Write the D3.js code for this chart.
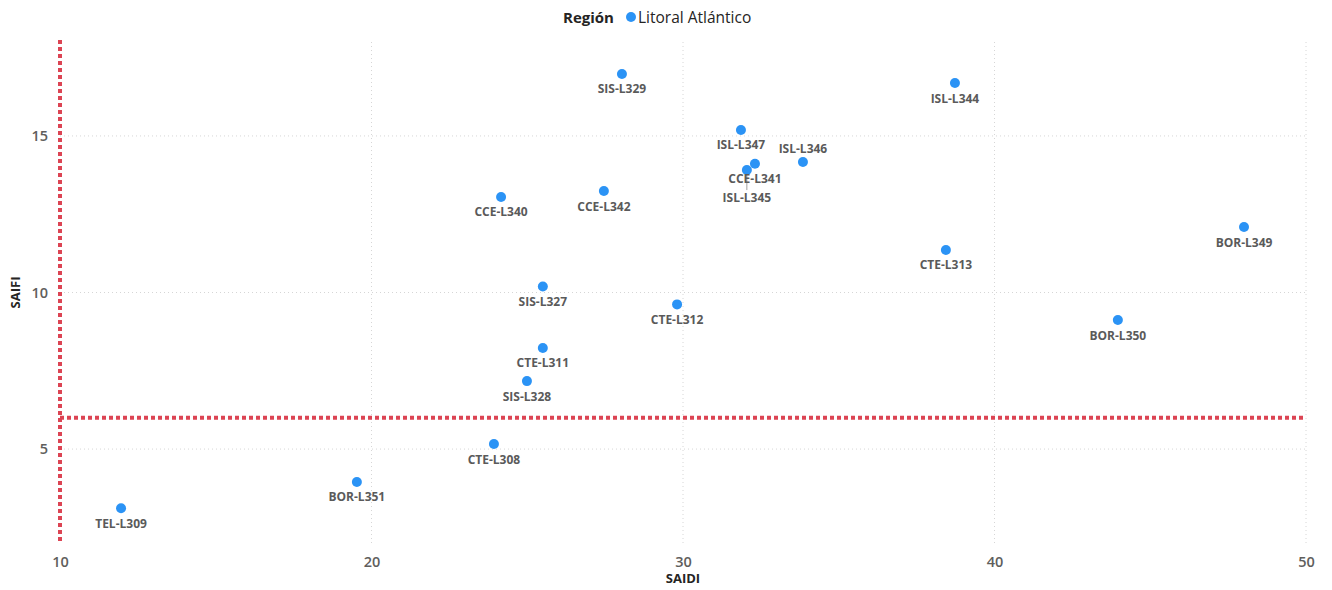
<!DOCTYPE html>
<html><head><meta charset="utf-8">
<script src="https://cdn.jsdelivr.net/npm/d3@7"></script>
<style>
body{margin:0;background:#fff;}
svg{display:block;font-family:"Open Sans","Noto Sans",sans-serif;}
</style></head>
<body><svg id="chart" width="1332" height="590"></svg>
<script>
const names = ["TEL-L309","BOR-L351","CTE-L308","SIS-L328","CTE-L311","SIS-L327","CCE-L340","CCE-L342","SIS-L329","CTE-L312","ISL-L347","CCE-L341","ISL-L345","ISL-L346","ISL-L344","CTE-L313","BOR-L349","BOR-L350"];
const saidi = [11.96,19.53,23.93,24.99,25.5,25.5,24.16,27.46,28.04,29.81,31.86,32.31,32.05,33.85,38.73,38.44,48.01,43.96];
const saifi = [3.11,3.95,5.16,7.17,8.23,10.19,13.05,13.24,16.98,9.62,15.19,14.11,13.91,14.17,16.69,11.36,12.09,9.12];
const labelPlace = ["below","below","below","below","below","below","below","below","below","below","below","below","far","above","below","below","below","below"];
const xTicks = [10,20,30,40,50];
const yTicks = [5,10,15];
const xDomain = [10,50];
const yDomain = [2,18];
const refX = 10, refY = 6;
const legendTitle = "Región", legendLabel = "Litoral Atlántico";

const svg = d3.select("#chart");
const m = {l:60, r:26, t:42, b:47};
const W = 1332, H = 590;
const x = d3.scaleLinear().domain(xDomain).range([m.l, W - m.r]);
const y = d3.scaleLinear().domain(yDomain).range([H - m.b, m.t]);
const tickColor = "#605E5C";

// gridlines
const g = svg.append("g");
g.selectAll("line.vg").data(xTicks.filter(t=>t!==refX)).join("line")
 .attr("x1",d=>x(d)).attr("x2",d=>x(d)).attr("y1",y(yDomain[1])).attr("y2",y(yDomain[0]))
 .attr("stroke","#d6d6d6").attr("stroke-width",1).attr("stroke-dasharray","1,3");
g.selectAll("line.hg").data(yTicks).join("line")
 .attr("x1",x(xDomain[0])).attr("x2",x(xDomain[1])).attr("y1",d=>y(d)).attr("y2",d=>y(d))
 .attr("stroke","#d6d6d6").attr("stroke-width",1).attr("stroke-dasharray","1,3");

// axes
const xAxis = svg.append("g").attr("transform",`translate(0,${H-m.b})`)
 .call(d3.axisBottom(x).tickValues(xTicks).tickSize(0).tickPadding(14));
const yAxis = svg.append("g").attr("transform",`translate(${m.l},0)`)
 .call(d3.axisLeft(y).tickValues(yTicks).tickSize(0).tickPadding(12));
[xAxis,yAxis].forEach(a=>{
  a.select(".domain").remove();
  a.selectAll("text").attr("fill",tickColor).attr("font-size",14.5).attr("font-weight",600)
   .attr("font-family","'Open Sans','Noto Sans',sans-serif");
});

// reference lines
svg.append("line").attr("x1",x(refX)).attr("x2",x(refX)).attr("y1",y(yDomain[1])-2).attr("y2",y(yDomain[0]))
 .attr("stroke","#dc4453").attr("stroke-width",4).attr("stroke-dasharray","4,3");
svg.append("line").attr("x1",x(xDomain[0])).attr("x2",x(xDomain[1])).attr("y1",y(refY)).attr("y2",y(refY))
 .attr("stroke","#dc4453").attr("stroke-width",4).attr("stroke-dasharray","4,3");

// axis titles
svg.append("text").attr("x",(x(xDomain[0])+x(xDomain[1]))/2).attr("y",583).attr("text-anchor","middle")
 .attr("font-size",13).attr("font-weight",700).attr("fill","#252423").text("SAIDI");
svg.append("text").attr("transform",`translate(20,${(y(yDomain[0])+y(yDomain[1]))/2}) rotate(-90)`)
 .attr("text-anchor","middle").attr("font-size",13).attr("font-weight",700).attr("fill","#252423").text("SAIFI");

// points
const data = names.map((n,i)=>({n, sx:saidi[i], sy:saifi[i], p:labelPlace[i]}));
const offs = {below:19.5, above:-9, far:32};
svg.append("g").selectAll("line").data(data.filter(d=>d.p==="far")).join("line")
 .attr("x1",d=>x(d.sx)).attr("x2",d=>x(d.sx)).attr("y1",d=>y(d.sy)).attr("y2",d=>y(d.sy)+offs.far-12)
 .attr("stroke","#a0a0a0").attr("stroke-width",1);
svg.append("g").selectAll("circle").data(data).join("circle")
 .attr("cx",d=>x(d.sx)).attr("cy",d=>y(d.sy)).attr("r",5).attr("fill","#2b93f5");
svg.append("g").selectAll("text").data(data).join("text")
 .attr("x",d=>x(d.sx)).attr("y",d=>y(d.sy)+offs[d.p]).attr("text-anchor","middle")
 .attr("font-size",12).attr("font-weight",700).attr("fill","#5a5a5a").text(d=>d.n);

// legend
const lg = svg.append("g");
lg.append("text").attr("x",563).attr("y",23).attr("font-size",15).attr("font-weight",700).attr("fill","#252423").text(legendTitle);
lg.append("circle").attr("cx",631).attr("cy",17).attr("r",5).attr("fill","#2b93f5");
lg.append("text").attr("x",638).attr("y",23).attr("font-size",15.5).attr("fill","#252423").text(legendLabel);
</script></body></html>
